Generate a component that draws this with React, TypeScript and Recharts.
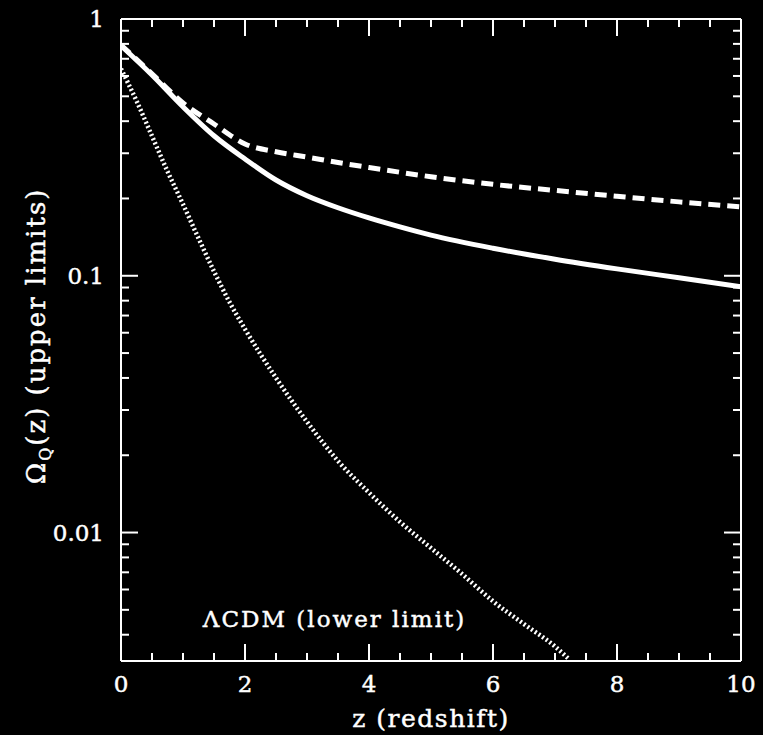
import React from 'react';
import { LineChart, Line, XAxis, YAxis, ReferenceDot } from 'recharts';

// ---- data ----
const zSolid = [0, 0.5, 1, 1.5, 2, 2.5, 3, 3.5, 4, 4.5, 5, 6, 7, 8, 9, 10];
const omegaSolid = [0.787, 0.605, 0.455, 0.351, 0.285, 0.236, 0.205, 0.184, 0.168, 0.155, 0.144, 0.128, 0.116, 0.1064, 0.0982, 0.0906];

const zDashed = [0, 0.5, 1, 1.5, 2, 2.5, 3, 3.5, 4, 5, 6, 7, 8, 9, 10];
const omegaDashed = [0.792, 0.612, 0.471, 0.39, 0.326, 0.304, 0.29, 0.276, 0.264, 0.243, 0.227, 0.215, 0.204, 0.194, 0.1856];

const zDotted = [0, 0.25, 0.5, 0.75, 1, 1.25, 1.5, 1.75, 2, 2.5, 3, 3.5, 4, 4.5, 5, 5.5, 6, 6.5, 7, 7.22];
const omegaDotted = [0.64, 0.48, 0.35, 0.255, 0.19, 0.14, 0.104, 0.079, 0.062, 0.04, 0.027, 0.019, 0.0143, 0.011, 0.0087, 0.0069, 0.0054, 0.0044, 0.0036, 0.00322];

const xTicks = [0, 0.5, 1, 1.5, 2, 2.5, 3, 3.5, 4, 4.5, 5, 5.5, 6, 6.5, 7, 7.5, 8, 8.5, 9, 9.5, 10];
const xMajor = [0, 2, 4, 6, 8, 10];
const yTicks = [0.004, 0.005, 0.006, 0.007, 0.008, 0.009, 0.01, 0.02, 0.03, 0.04, 0.05, 0.06, 0.07, 0.08, 0.09, 0.1, 0.2, 0.3, 0.4, 0.5, 0.6, 0.7, 0.8, 0.9, 1];
const yMajor = [0.01, 0.1, 1];
const yLabels: Record<string, string> = { '0.01': '0.01', '0.1': '0.1', '1': '1' };

const xLabel = 'z (redshift)';
const yLabelMain = 'Ω';
const yLabelSub = 'Q';
const yLabelRest = '(z) (upper limits)';
const annotation = 'ΛCDM (lower limit)';
const annotationPos = { z: 1.32, omega: 0.0043 };

const solidData = zSolid.map((z, i) => ({ z, v: omegaSolid[i] }));
const dashedData = zDashed.map((z, i) => ({ z, v: omegaDashed[i] }));
const dottedData = zDotted.map((z, i) => ({ z, v: omegaDotted[i] }));

const FONT = '"DejaVu Serif", serif';
const WHITE = '#ffffff';
const MAJOR = 17;
const MINOR = 8;
const TEXT_STROKE = 0.45;

const isMajorX = (v: number) => xMajor.some((m) => Math.abs(m - v) < 1e-9);
const isMajorY = (v: number) => yMajor.some((m) => Math.abs(m - v) < 1e-12);

const BottomTick = (props: any) => {
  const { x, y, payload } = props;
  const major = isMajorX(payload.value);
  return (
    <g>
      <line x1={x} y1={y} x2={x} y2={y - (major ? MAJOR : MINOR)} stroke={WHITE} strokeWidth={2} />
      {major && (
        <text x={x} y={y + 31} textAnchor="middle" fill={WHITE} stroke={WHITE} strokeWidth={TEXT_STROKE} fontSize={23} fontFamily={FONT}>
          {String(payload.value)}
        </text>
      )}
    </g>
  );
};

const TopTick = (props: any) => {
  const { x, y, payload } = props;
  const major = isMajorX(payload.value);
  return <line x1={x} y1={y} x2={x} y2={y + (major ? MAJOR : MINOR)} stroke={WHITE} strokeWidth={2} />;
};

const LeftTick = (props: any) => {
  const { x, y, payload } = props;
  const major = isMajorY(payload.value);
  return (
    <g>
      <line x1={x} y1={y} x2={x + (major ? MAJOR : MINOR)} y2={y} stroke={WHITE} strokeWidth={2} />
      {major && (
        <text x={x - 17} y={y + 8} textAnchor="end" fill={WHITE} stroke={WHITE} strokeWidth={TEXT_STROKE} fontSize={23} fontFamily={FONT}>
          {yLabels[String(payload.value)]}
        </text>
      )}
    </g>
  );
};

const RightTick = (props: any) => {
  const { x, y, payload } = props;
  const major = isMajorY(payload.value);
  return <line x1={x} y1={y} x2={x - (major ? MAJOR : MINOR)} y2={y} stroke={WHITE} strokeWidth={2} />;
};

const renderXLabel = (props: any) => {
  const vb = props.viewBox || {};
  return (
    <text x={vb.x + vb.width / 2} y={vb.y + 66} textAnchor="middle" fill={WHITE} stroke={WHITE} strokeWidth={TEXT_STROKE} fontSize={25} letterSpacing={1.5} fontFamily={FONT}>
      {xLabel}
    </text>
  );
};

const renderYLabel = (props: any) => {
  const vb = props.viewBox || {};
  const cx = vb.x + 45;
  const cy = vb.y + vb.height / 2 - 4;
  return (
    <text x={cx} y={cy} transform={`rotate(-90, ${cx}, ${cy})`} textAnchor="middle" fill={WHITE} stroke={WHITE} strokeWidth={TEXT_STROKE} fontSize={26} letterSpacing={2} fontFamily={FONT}>
      <tspan>{yLabelMain}</tspan>
      <tspan fontSize={16} dy={6}>{yLabelSub}</tspan>
      <tspan dy={-6}>{yLabelRest}</tspan>
    </text>
  );
};

const renderAnnotation = (props: any) => {
  const vb = props.viewBox || {};
  return (
    <text x={vb.x + (vb.width || 0) / 2} y={vb.y + (vb.height || 0) / 2} textAnchor="start" fill={WHITE} stroke={WHITE} strokeWidth={TEXT_STROKE} fontSize={23} letterSpacing={2} fontFamily={FONT}>
      {annotation}
    </text>
  );
};

export default function App() {
  return (
    <div style={{ position: 'fixed', left: 0, top: 0, width: 763, height: 735, background: '#000' }}>
      <LineChart width={763} height={735} margin={{ top: 18, right: 21, left: 0, bottom: 0 }}>
        <XAxis
          xAxisId="b"
          dataKey="z"
          type="number"
          domain={[0, 10]}
          ticks={xTicks}
          interval={0}
          height={74}
          tickSize={0}
          tickMargin={0}
          tickLine={false}
          axisLine={{ stroke: WHITE, strokeWidth: 2 }}
          tick={<BottomTick />}
          allowDataOverflow
          label={renderXLabel}
        />
        <XAxis
          xAxisId="t"
          dataKey="z"
          orientation="top"
          type="number"
          domain={[0, 10]}
          ticks={xTicks}
          interval={0}
          height={1}
          tickSize={0}
          tickMargin={0}
          tickLine={false}
          axisLine={{ stroke: WHITE, strokeWidth: 2 }}
          tick={<TopTick />}
          allowDataOverflow
        />
        <YAxis
          yAxisId="l"
          type="number"
          scale="log"
          domain={[0.00316, 1]}
          ticks={yTicks}
          interval={0}
          width={121}
          tickSize={0}
          tickMargin={0}
          tickLine={false}
          axisLine={{ stroke: WHITE, strokeWidth: 2 }}
          tick={<LeftTick />}
          allowDataOverflow
          label={renderYLabel}
        />
        <YAxis
          yAxisId="r"
          orientation="right"
          type="number"
          scale="log"
          domain={[0.00316, 1]}
          ticks={yTicks}
          interval={0}
          width={1}
          tickSize={0}
          tickMargin={0}
          tickLine={false}
          axisLine={{ stroke: WHITE, strokeWidth: 2 }}
          tick={<RightTick />}
          allowDataOverflow
        />
        <Line xAxisId="t" yAxisId="r" data={solidData} dataKey="v" type="monotone" stroke="none" strokeWidth={0} dot={false} activeDot={false} isAnimationActive={false} legendType="none" />
        <Line xAxisId="b" yAxisId="l" data={solidData} dataKey="v" type="monotone" stroke={WHITE} strokeWidth={5} dot={false} activeDot={false} isAnimationActive={false} />
        <Line xAxisId="b" yAxisId="l" data={dashedData} dataKey="v" type="monotone" stroke={WHITE} strokeWidth={5} strokeDasharray="12 7" dot={false} activeDot={false} isAnimationActive={false} />
        <Line xAxisId="b" yAxisId="l" data={dottedData} dataKey="v" type="monotone" stroke={WHITE} strokeWidth={4.5} strokeDasharray="2 2.5" dot={false} activeDot={false} isAnimationActive={false} />
        <ReferenceDot xAxisId="b" yAxisId="l" x={annotationPos.z} y={annotationPos.omega} r={1} fill="none" stroke="none" label={renderAnnotation} />
      </LineChart>
    </div>
  );
}
